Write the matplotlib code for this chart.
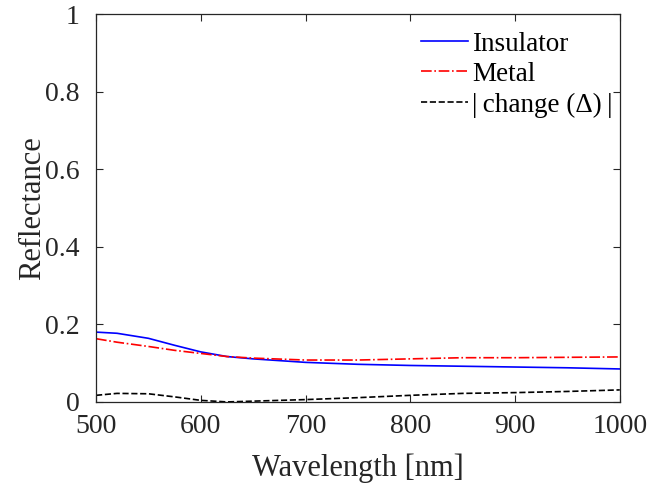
import numpy as np
import matplotlib
matplotlib.use("Agg")
import matplotlib.pyplot as plt

plt.rcParams["font.family"] = ["Liberation Serif", "DejaVu Serif"]

wavelength = [500, 520, 550, 575, 600, 625, 650, 700, 750, 800, 850, 900, 950, 1000]
insulator = [0.180, 0.177, 0.164, 0.146, 0.129, 0.117, 0.111, 0.102, 0.097, 0.094, 0.092, 0.090, 0.088, 0.085]
metal = [0.163, 0.154, 0.143, 0.133, 0.125, 0.117, 0.113, 0.108, 0.108, 0.111, 0.114, 0.114, 0.115, 0.116]
change = [0.017, 0.022, 0.021, 0.013, 0.004, 0.000, 0.002, 0.006, 0.011, 0.017, 0.022, 0.024, 0.027, 0.031]

dark = "#262626"

fig = plt.figure(figsize=(6.49, 4.86), dpi=100)
ax = fig.add_axes([0.148, 0.173, 0.807, 0.798])

ax.plot(wavelength, insulator, color="blue", lw=1.2, label="Insulator")
ax.plot(wavelength, metal, color="red", lw=1.2, ls="-.", label="Metal")
ax.plot(wavelength, change, color="black", lw=1.2, ls="--", label="|\u2009change (Δ)\u2009|")

ax.set_xlim(500, 1000)
ax.set_ylim(0, 1)
ax.set_xticks([500, 600, 700, 800, 900, 1000])
ax.set_yticks([0, 0.2, 0.4, 0.6, 0.8, 1])
ax.set_yticklabels(["0", "0.2", "0.4", "0.6", "0.8", "1"])
ax.tick_params(direction="in", top=True, right=True, labelsize=20, length=5,
               width=0.8, color=dark, labelcolor=dark)
ax.tick_params(axis="x", pad=9)
ax.tick_params(axis="y", pad=12)
for s in ax.spines.values():
    s.set_linewidth(0.9)
    s.set_color(dark)

ax.set_xlabel("Wavelength [nm]", fontsize=22, color=dark, labelpad=10)
ax.set_ylabel("Reflectance", fontsize=22, color=dark, labelpad=-2)

leg = ax.legend(loc="upper right", bbox_to_anchor=(0.987, 0.955), frameon=False,
                fontsize=19.5, handlelength=1.75, handletextpad=0.15,
                labelspacing=0.2, borderaxespad=0, borderpad=0)

fig.savefig("out.png", dpi=100)
